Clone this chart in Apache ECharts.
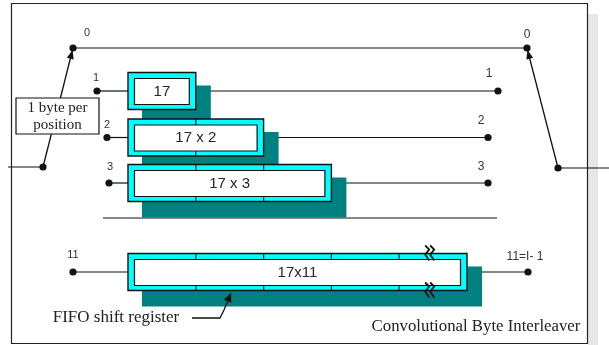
<!DOCTYPE html>
<html><head><meta charset="utf-8">
<script src="https://cdn.jsdelivr.net/npm/echarts@6/dist/echarts.min.js"></script>
<style>html,body{margin:0;padding:0;background:#fff}#c{width:609px;height:345px}</style>
</head><body><div id="c"></div>
<script>
// ---- data ----
const branchIds = ['0', '1', '2', '3', '11'];
const delayMultiples = [0, 1, 2, 3, 11];          // FIFO depth = multiple x 17
const boxLabels = ['', '17', '17 x 2', '17 x 3', '17x11'];
const outputLabels = ['0', '1', '2', '3', '11=I- 1'];
const byteNote = ['1 byte per', 'position'];
const fifoNote = 'FIFO shift register';
const titleText = 'Convolutional Byte Interleaver';

// ---- layout (pixel space 609 x 345) ----
const L = {
  rowY: [48, 91, 137.5, 183, 272],
  inDotX: [73, 97, 107, 109, 73],
  outDotX: [527, 498, 488, 488, 528],
  inLabelDX: [14, -1, 0, 1, 0],
  inLabelDY: [-15, -13, -13, -16, -17],
  outLabelDX: [0, -9, -7, -7, -3],
  outLabelDY: [-13, -17, -17, -16, -15],
  boxX: 128, unitW: 67.8, maxUnits: 5, boxHalf: 18.5, bandX: 6.5, bandTop: 6, bandBot: 5,
  shL: 14, shT: 13, shR: 15, shB: 16,
  breakUnit: 4.45,
  inPivot: [43, 167], outPivot: [558, 168], inStart: 8, outEnd: 609,
  sepY: 218, sepX1: 103, sepX2: 497,
  frame: [11.5, 3.5, 587.5, 343.5], strip: [588, 14, 598, 345],
  noteBox: [16, 98, 99, 134],
  fifoText: [116, 318], fifoArrow: [[192, 318], [220, 318], [224, 310], [231, 293]],
  title: [476, 327]
};
const TEAL = '#008080', CYAN = '#00ffff', INK = '#111';
const SANS = '"Liberation Sans", Arial, sans-serif';
const SERIF = '"Liberation Serif", "Times New Roman", serif';

function boxGeom(i) {
  const m = delayMultiples[i];
  const units = Math.min(m, L.maxUnits);
  const x1 = L.boxX, x2 = L.boxX + units * L.unitW;
  const y1 = L.rowY[i] - L.boxHalf, y2 = L.rowY[i] + L.boxHalf;
  return { m, units, x1, x2, y1, y2 };
}
function arrowHead(p, q, len, wid) {
  const dx = q[0] - p[0], dy = q[1] - p[1], d = Math.hypot(dx, dy);
  const ux = dx / d, uy = dy / d, nx = -uy, ny = ux;
  return [q, [q[0] - ux * len + nx * wid, q[1] - uy * len + ny * wid], [q[0] - ux * len - nx * wid, q[1] - uy * len - ny * wid]];
}
function line(a, b, w) {
  return { type: 'line', shape: { x1: a[0], y1: a[1], x2: b[0], y2: b[1] }, style: { stroke: INK, lineWidth: w || 1.2 } };
}
function rectPx(a, b, style) {
  return { type: 'rect', shape: { x: a[0], y: a[1], width: b[0] - a[0], height: b[1] - a[1] }, style };
}

const rows = branchIds.map((_, i) => [i]);
const single = [[0]];

function renderWires(params, api) {
  const i = api.value(0), y = L.rowY[i], g = boxGeom(i);
  const c = (x, yy) => api.coord([x, yy]);
  const ch = [];
  if (g.m === 0) {
    ch.push(line(c(L.inDotX[i], y), c(L.outDotX[i], y)));
  } else {
    ch.push(line(c(L.inDotX[i], y), c(g.x1, y)));
    ch.push(line(c(g.x2, y), c(L.outDotX[i], y)));
  }
  return { type: 'group', children: ch };
}
function renderShadows(params, api) {
  const i = api.value(0), g = boxGeom(i);
  if (g.m === 0) return { type: 'group', children: [] };
  const c = (x, yy) => api.coord([x, yy]);
  return rectPx(c(g.x1 + L.shL, g.y1 + L.shT), c(g.x2 + L.shR, g.y2 + L.shB), { fill: TEAL });
}
function renderBoxes(params, api) {
  const i = api.value(0), g = boxGeom(i);
  if (g.m === 0) return { type: 'group', children: [] };
  const c = (x, yy) => api.coord([x, yy]);
  const ch = [];
  ch.push(rectPx(c(g.x1, g.y1), c(g.x2, g.y2), { fill: CYAN, stroke: INK, lineWidth: 1.4 }));
  ch.push(rectPx(c(g.x1 + L.bandX, g.y1 + L.bandTop), c(g.x2 - L.bandX, g.y2 - L.bandBot), { fill: '#fff', stroke: INK, lineWidth: 1.2 }));
  for (let k = 1; k < g.units; k++) {
    const x = g.x1 + k * L.unitW;
    ch.push(line(c(x, g.y1), c(x, g.y1 + L.bandTop), 1.2));
    ch.push(line(c(x, g.y2 - L.bandBot), c(x, g.y2), 1.2));
  }
  const ctr = c((g.x1 + L.bandX + g.x2 - L.bandX) / 2, L.rowY[i] + 0.5);
  ch.push({ type: 'text', style: { text: boxLabels[i], x: ctr[0], y: ctr[1], align: 'center', verticalAlign: 'middle', font: '15px ' + SANS, fill: '#262626' } });
  if (g.m > L.maxUnits) {
    const bx = g.x1 + L.breakUnit * L.unitW;
    [g.y1, g.y2].forEach(yy => {
      [-2.5, 2.5].forEach(dx => {
        const pts = [[-2, -8], [2, -4], [-2, 1], [2, 7]].map(p => c(bx + dx + p[0], yy + p[1]));
        ch.push({ type: 'polyline', shape: { points: pts }, style: { stroke: INK, lineWidth: 1.8, fill: null } });
      });
    });
  }
  return { type: 'group', children: ch };
}
function renderDots(params, api) {
  const i = api.value(0), y = L.rowY[i];
  const c = (x, yy) => api.coord([x, yy]);
  const ch = [];
  const a = c(L.inDotX[i], y), b = c(L.outDotX[i], y);
  ch.push({ type: 'circle', shape: { cx: a[0], cy: a[1], r: 3.6 }, style: { fill: INK } });
  ch.push({ type: 'circle', shape: { cx: b[0], cy: b[1], r: 3.6 }, style: { fill: INK } });
  const la = c(L.inDotX[i] + L.inLabelDX[i], y + L.inLabelDY[i]);
  const lb = c(L.outDotX[i] + L.outLabelDX[i], y + L.outLabelDY[i]);
  ch.push({ type: 'text', style: { text: branchIds[i], x: la[0], y: la[1], align: 'center', verticalAlign: 'middle', font: '11px ' + SANS, fill: '#333' } });
  ch.push({ type: 'text', style: { text: outputLabels[i], x: lb[0], y: lb[1], align: 'center', verticalAlign: 'middle', font: '12px ' + SANS, fill: '#333' } });
  return { type: 'group', children: ch };
}
function renderFrame(params, api) {
  const c = (x, yy) => api.coord([x, yy]);
  const f = L.frame, s = L.strip;
  return { type: 'group', children: [
    rectPx(c(s[0], s[1]), c(s[2], s[3]), { fill: '#e6e6e6' }),
    rectPx(c(f[0], f[1]), c(f[2], f[3]), { fill: null, stroke: '#222', lineWidth: 1.2 })
  ] };
}
function renderCommutators(params, api) {
  const c = (x, yy) => api.coord([x, yy]);
  const ch = [];
  const ip = L.inPivot, op = L.outPivot;
  const top0in = [L.inDotX[0], L.rowY[0]], top0out = [L.outDotX[0], L.rowY[0]];
  ch.push(line(c(L.inStart, ip[1]), c(ip[0], ip[1])));
  ch.push(line(c(op[0], op[1]), c(L.outEnd, op[1])));
  ch.push(line(c(L.sepX1, L.sepY), c(L.sepX2, L.sepY)));
  [[ip, top0in], [op, top0out]].forEach(([p, q]) => {
    const P = c(p[0], p[1]), Q = c(q[0], q[1]);
    ch.push(line(P, Q, 1.3));
    const d = Math.hypot(Q[0] - P[0], Q[1] - P[1]);
    const tip = [Q[0] + (P[0] - Q[0]) * 2 / d, Q[1] + (P[1] - Q[1]) * 2 / d];
    ch.push({ type: 'polygon', shape: { points: arrowHead(P, tip, 9, 3.5) }, style: { fill: INK } });
    ch.push({ type: 'circle', shape: { cx: P[0], cy: P[1], r: 3.6 }, style: { fill: INK } });
  });
  return { type: 'group', children: ch };
}
function renderNotes(params, api) {
  const c = (x, yy) => api.coord([x, yy]);
  const ch = [];
  const nb = L.noteBox;
  ch.push(rectPx(c(nb[0], nb[1]), c(nb[2], nb[3]), { fill: '#fff', stroke: INK, lineWidth: 1.2 }));
  const nc = c((nb[0] + nb[2]) / 2, (nb[1] + nb[3]) / 2);
  ch.push({ type: 'text', style: { text: byteNote.join('\n'), x: nc[0], y: nc[1] + 1, align: 'center', verticalAlign: 'middle', lineHeight: 17, font: '15px ' + SERIF, fill: '#222' } });
  const ft = c(L.fifoText[0], L.fifoText[1]);
  ch.push({ type: 'text', style: { text: fifoNote, x: ft[0], y: ft[1], align: 'center', verticalAlign: 'middle', font: '17px ' + SERIF, fill: '#222' } });
  const pts = L.fifoArrow.map(p => c(p[0], p[1]));
  ch.push({ type: 'polyline', shape: { points: pts }, style: { stroke: INK, lineWidth: 1.3, fill: null } });
  ch.push({ type: 'polygon', shape: { points: arrowHead(pts[pts.length - 2], pts[pts.length - 1], 9, 4) }, style: { fill: INK } });
  const tt = c(L.title[0], L.title[1]);
  ch.push({ type: 'text', style: { text: titleText, x: tt[0], y: tt[1], align: 'center', verticalAlign: 'middle', font: '16.8px ' + SERIF, fill: '#222' } });
  return { type: 'group', children: ch };
}

const chart = echarts.init(document.getElementById('c'), null, { renderer: 'canvas' });
const base = { type: 'custom', coordinateSystem: 'cartesian2d', silent: true, animation: false, clip: false };
chart.setOption({
  backgroundColor: '#fff',
  animation: false,
  grid: { left: 0, right: 0, top: 0, bottom: 0 },
  xAxis: { type: 'value', min: 0, max: 609, show: false },
  yAxis: { type: 'value', min: 0, max: 345, inverse: true, show: false },
  series: [
    Object.assign({}, base, { name: 'frame', z: 1, data: single, renderItem: renderFrame }),
    Object.assign({}, base, { name: 'wires', z: 2, data: rows, renderItem: renderWires }),
    Object.assign({}, base, { name: 'commutators', z: 3, data: single, renderItem: renderCommutators }),
    Object.assign({}, base, { name: 'shadows', z: 4, data: rows, renderItem: renderShadows }),
    Object.assign({}, base, { name: 'boxes', z: 5, data: rows, renderItem: renderBoxes }),
    Object.assign({}, base, { name: 'dots', z: 6, data: rows, renderItem: renderDots }),
    Object.assign({}, base, { name: 'notes', z: 7, data: single, renderItem: renderNotes })
  ]
});
</script></body></html>
